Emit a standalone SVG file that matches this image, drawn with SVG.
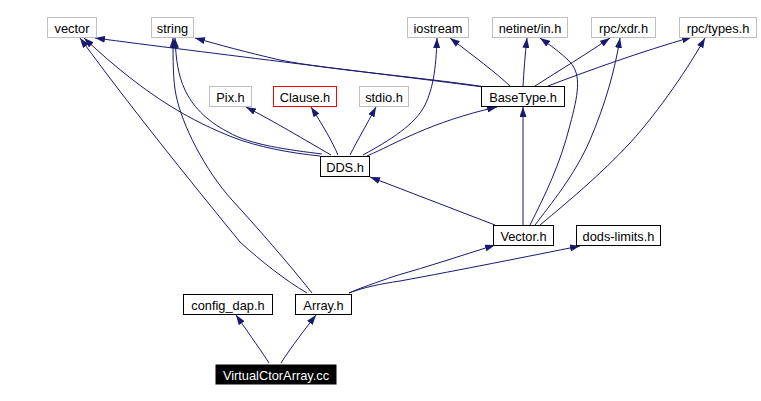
<svg xmlns="http://www.w3.org/2000/svg" width="761" height="401" viewBox="0 0 761 401">
<style>
.n rect{fill:#fff;stroke:#000;stroke-width:1}
.g rect{stroke:#bfbfbf}
.r rect{stroke:#ff0000}
.n text{font-family:"Liberation Sans",Arial,sans-serif;font-size:12.8px;text-anchor:middle;fill:#000}
.e path{fill:none;stroke:#191970;stroke-width:1;marker-end:url(#a)}
</style>
<defs>
<marker id="a" viewBox="0 0 10 7" refX="10" refY="3.5" markerWidth="10" markerHeight="7" orient="auto" markerUnits="userSpaceOnUse"><path d="M0,0 L10,3.5 L0,7 z" fill="#191970"/></marker>
</defs>
<rect width="761" height="401" fill="#fff"/>
<g class="e" id="edges">
<path d="M269,363 C262,352 252,338 236,315"/>
<path d="M281,363 C288,352 298,338 316,315"/>
<path d="M307,293 C285,280 262,262 240,242 C210,205 140,120 80,38"/>
<path d="M312,293 C290,265 255,225 232,200 C205,170 182,125 176,95 C173,80 173,60 173,38"/>
<path d="M349,293 C360,288 375,283 395,276 C430,266 460,256 495,245"/>
<path d="M349,293 C365,287 380,284 400,281 C460,270 530,256 580,246"/>
<path d="M320,156 C290,153 258,147 232,137 C195,122 150,100 84,38"/>
<path d="M322,154 C290,150 250,145 228,132 C205,120 192,105 185,90 C178,75 176,60 175,38"/>
<path d="M331,155 C305,140 275,122 246,107"/>
<path d="M338,155 C332,141 322,124 311,107"/>
<path d="M350,155 C357,141 367,124 376,107"/>
<path d="M363,155 C390,140 415,125 425,105 C433,88 436,70 437,38"/>
<path d="M367,156 C395,144 430,122 497,107"/>
<path d="M483,87 C400,76 200,52 95,38"/>
<path d="M486,87 C420,77 330,70 280,60 C245,52 220,45 195,38"/>
<path d="M510,86 C495,72 475,57 450,38"/>
<path d="M523,86 C524,70 525,55 527,38"/>
<path d="M535,86 C560,70 585,55 610,38"/>
<path d="M548,86 C590,70 640,52 692,37"/>
<path d="M495,225 L370,177"/>
<path d="M523,225 L523,107"/>
<path d="M530,225 C545,195 560,165 570,125 C578,95 582,75 570,62 C560,52 550,45 540,38"/>
<path d="M535,225 C550,205 575,175 590,140 C605,105 615,70 620,38"/>
<path d="M540,225 C570,200 600,175 630,143 C660,110 690,65 705,38"/>
</g>
<g id="vector" class="n g"><rect x="47.5" y="17.5" width="49" height="20"/><text x="72" y="33">vector</text></g>
<g id="string" class="n g"><rect x="151.5" y="17.5" width="42" height="20"/><text x="172.5" y="33">string</text></g>
<g id="iostream" class="n g"><rect x="407.5" y="17.5" width="61" height="20"/><text x="438" y="33">iostream</text></g>
<g id="netinet" class="n g"><rect x="492.5" y="17.5" width="75" height="20"/><text x="530" y="33">netinet/in.h</text></g>
<g id="rpcxdr" class="n g"><rect x="591.5" y="17.5" width="64" height="20"/><text x="623.5" y="33">rpc/xdr.h</text></g>
<g id="rpctypes" class="n g"><rect x="679.5" y="17.5" width="77" height="20"/><text x="718" y="33">rpc/types.h</text></g>
<g id="pix" class="n g"><rect x="209.5" y="86.5" width="42" height="20"/><text x="230.5" y="102">Pix.h</text></g>
<g id="clause" class="n r"><rect x="273.5" y="86.5" width="63" height="20"/><text x="305" y="102">Clause.h</text></g>
<g id="stdio" class="n g"><rect x="359.5" y="86.5" width="49" height="20"/><text x="384" y="102">stdio.h</text></g>
<g id="basetype" class="n"><rect x="481.5" y="86.5" width="83" height="20"/><text x="523" y="102">BaseType.h</text></g>
<g id="dds" class="n"><rect x="320.5" y="156.5" width="49" height="20"/><text x="345" y="172">DDS.h</text></g>
<g id="vectorh" class="n"><rect x="493.5" y="225.5" width="60" height="20"/><text x="523.5" y="241">Vector.h</text></g>
<g id="dodslimits" class="n"><rect x="576.5" y="225.5" width="84" height="20"/><text x="618.5" y="241">dods-limits.h</text></g>
<g id="configdap" class="n"><rect x="183.5" y="294.5" width="89" height="20"/><text x="228" y="310">config_dap.h</text></g>
<g id="array" class="n"><rect x="295.5" y="294.5" width="56" height="20"/><text x="323.5" y="310">Array.h</text></g>
<g id="vca" class="n"><rect x="216" y="365" width="120" height="19" style="fill:#000;stroke:#000"/><text x="276" y="380" style="fill:#fff">VirtualCtorArray.cc</text></g>
</svg>
